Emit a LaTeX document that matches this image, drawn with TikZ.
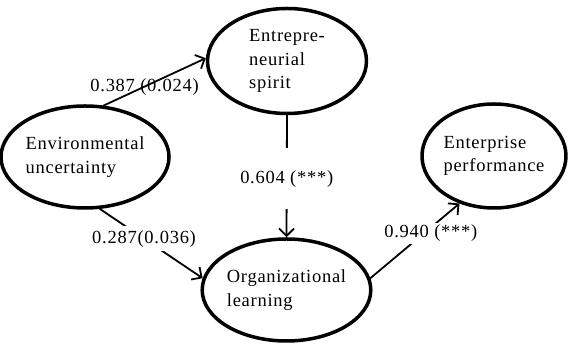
\documentclass[tikz,border=0pt]{standalone}
\usepackage{fontspec}
\setmainfont{Liberation Serif}[LetterSpace=4]
\usepackage{tikz}
\usetikzlibrary{shapes.geometric}
\usetikzlibrary{arrows.meta}
\tikzstyle{every node}=[font=\fontsize{18.5}{23.5}\selectfont]
\tikzstyle{construct}=[ellipse,draw,line width=3.5pt,align=left,inner sep=0pt]
\tikzstyle{link}=[line width=1.8pt]
\tikzstyle{coef}=[fill=white,inner sep=2pt]

\begin{document}
\begin{tikzpicture}[line cap=round,line join=round,>={Straight Barb[length=7.5pt,width=15pt]},x=1pt,y=1pt]
            \useasboundingbox (0,0) rectangle (574,344);
            \node[construct,minimum width=156pt,minimum height=102pt] (env) at (85,187) {Environmental\\uncertainty};
            \node[construct,minimum width=159pt,minimum height=105pt] (ent) at (287,283) {Entrepre-\\neurial\\spirit};
            \node[construct,minimum width=144pt,minimum height=104pt] (perf) at (494,188) {Enterprise\\performance};
            \node[construct,minimum width=159pt,minimum height=102pt] (org) at (286.5,54) {Organizational\\learning};
            \draw [->,link] (env.70) -- node[pos=0.4] {0.387 (0.024)} (ent.178);
            \draw [->,link] (env.-74) -- node[coef,pos=0.43,inner ysep=4pt] {0.287(0.036)} (org.172);
            \draw [->,link] (ent.south) -- node[coef,pos=0.52,inner ysep=22pt] {0.604 (***)} (org.north);
            \draw [->,link] (org.8) -- node[coef,pos=0.6,xshift=7pt] {0.940 (***)} (perf.234);
        \end{tikzpicture}
\end{document}
